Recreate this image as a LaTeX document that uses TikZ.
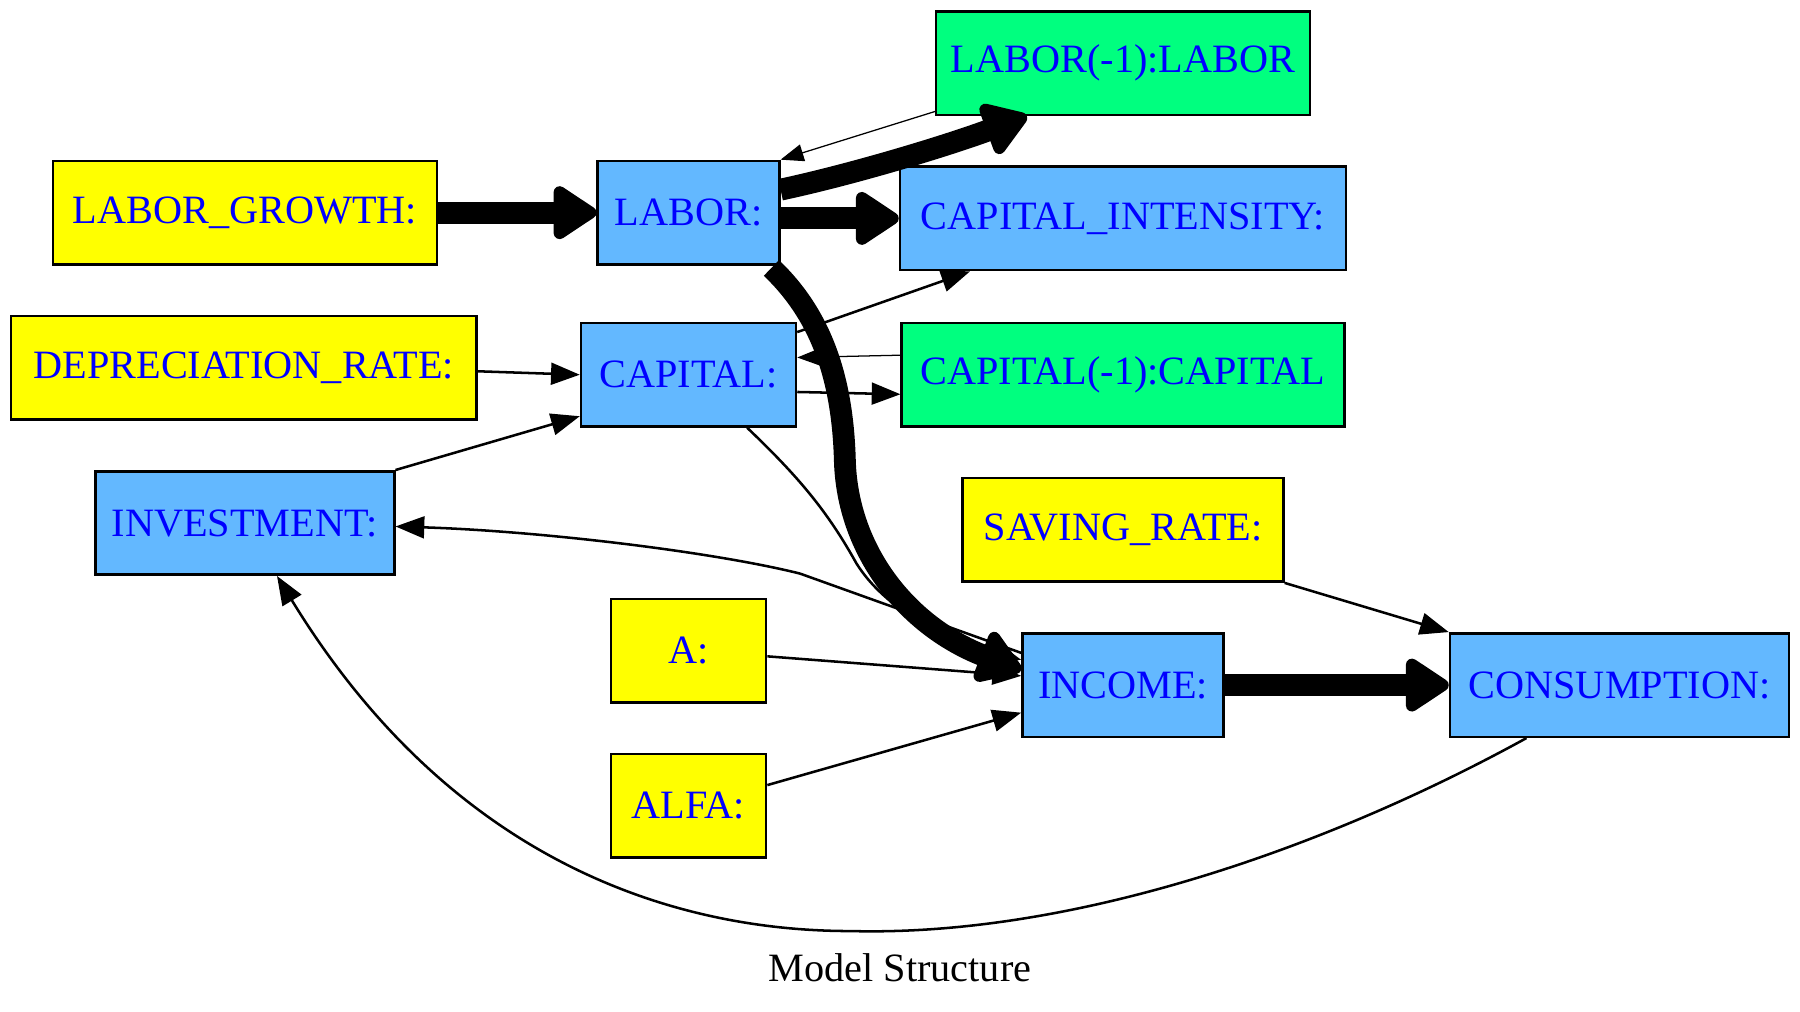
\documentclass[tikz,border=0pt]{standalone}
\usepackage{fontspec}
\setmainfont{Liberation Serif}
\usetikzlibrary{arrows.meta, calc}
\definecolor{giallo}{RGB}{255,255,0}
\definecolor{celeste}{RGB}{99,184,255}
\definecolor{verde}{RGB}{0,255,127}

\begin{document}
\begin{tikzpicture}[x = 0.5pt, y = -0.5pt,
    scatola/.style = {draw, line width = 1.1pt, minimum height = 45pt, inner sep = 0pt, text = blue, font = \fontsize{17.5}{21}\selectfont},
    variabile/.style = {scatola, fill = celeste},
    parametro/.style = {scatola, fill = giallo},
    ritardo/.style = {scatola, fill = verde},
    freccia/.style = {line width = 1.1pt, -{Triangle[length = 12.5pt, width = 9.5pt]}},
    sottile/.style = {line width = 0.55pt, -{Triangle[length = 10pt, width = 7.5pt]}},
    spessa/.style = {line width = 9.5pt, -{Triangle[round, length = 21pt, width = 26pt]}}]
    % cornice
    \useasboundingbox (0,0) rectangle (1566,880);
    % nodi
    \node[ritardo, minimum width = 162.5pt] (laborlag) at (977,55) {LABOR(-1):LABOR};
    \node[parametro, minimum width = 167pt] (laborgrowth) at (213,185) {LABOR\_GROWTH:};
    \node[variabile, minimum width = 79pt] (labor) at (599,185) {LABOR:};
    \node[variabile, minimum width = 194pt] (capint) at (977,190) {CAPITAL\_INTENSITY:};
    \node[parametro, minimum width = 202.5pt] (deprate) at (212,320) {DEPRECIATION\_RATE:};
    \node[variabile, minimum width = 93.5pt] (capital) at (599,326) {CAPITAL:};
    \node[ritardo, minimum width = 192.5pt] (capitallag) at (977,326) {CAPITAL(-1):CAPITAL};
    \node[variabile, minimum width = 130pt] (investment) at (213,455) {INVESTMENT:};
    \node[parametro, minimum width = 139.5pt] (saving) at (977,461) {SAVING\_RATE:};
    \node[parametro, minimum width = 67.5pt] (a) at (599,566) {A:};
    \node[variabile, minimum width = 87.5pt] (income) at (977,596) {INCOME:};
    \node[variabile, minimum width = 147.5pt] (consumption) at (1409,596) {CONSUMPTION:};
    \node[parametro, minimum width = 67.5pt] (alfa) at (599,701) {ALFA:};
    % titolo
    \node[font = \fontsize{17.5}{21}\selectfont] (titolo) at (783,842) {Model Structure};
    % archi sottili
    \draw[sottile] ($(laborlag.west)+(0,42)$) -- (labor.north east);
    \draw[sottile] ($(capitallag.west)+(0,-17)$) -- ($(capital.east)+(0,-15)$);
    \draw[freccia] ($(capital.east)+(0,15)$) -- ($(capitallag.west)+(0,17)$);
    \draw[freccia] ($(capital.north east)+(0,9)$) -- ($(capint.south west)+(62,0)$);
    \draw[freccia] ($(deprate.east)+(0,3)$) -- (capital.west);
    \draw[freccia] (investment.north east) -- ($(capital.south west)+(0,-10)$);
    \draw[freccia] ($(capital.south)+(51,0)$) .. controls (695,415) and (720,445) .. (745,490) .. controls (770,530) and (820,555) .. ($(income.west)+(0,-22)$);
    \draw[freccia] ($(income.west)+(0,-28)$) -- (696,499) .. controls (620,480) and (470,462) .. ($(investment.east)+(0,3)$);
    \draw[freccia] ($(a.east)+(0,5)$) -- ($(income.west)+(0,-8)$);
    \draw[freccia] ($(alfa.east)+(0,-18)$) -- ($(income.west)+(0,24)$);
    \draw[freccia] (saving.south east) -- (consumption.north west);
    \draw[freccia] ($(consumption.south)+(-81,0)$) .. controls (1150,740) and (930,815) .. (740,810) .. controls (580,810) and (390,745) .. ($(investment.south)+(28,0)$);
    % archi spessi
    \draw[spessa] (laborgrowth) -- (labor);
    \draw[spessa] ($(labor.east)+(0,-20)$) .. controls (740,152) and (820,128) .. ($(laborlag.south west)+(80,0)$);
    \draw[spessa] (labor.east |- capint.west) -- (capint.west);
    \draw[spessa] ($(labor.south east)+(-8,2)$) .. controls (715,275) and (733,330) .. (735,400) .. controls (737,480) and (790,545) .. ($(income.west)+(0,-13)$);
    \draw[spessa] (income) -- (consumption);
\end{tikzpicture}
\end{document}
